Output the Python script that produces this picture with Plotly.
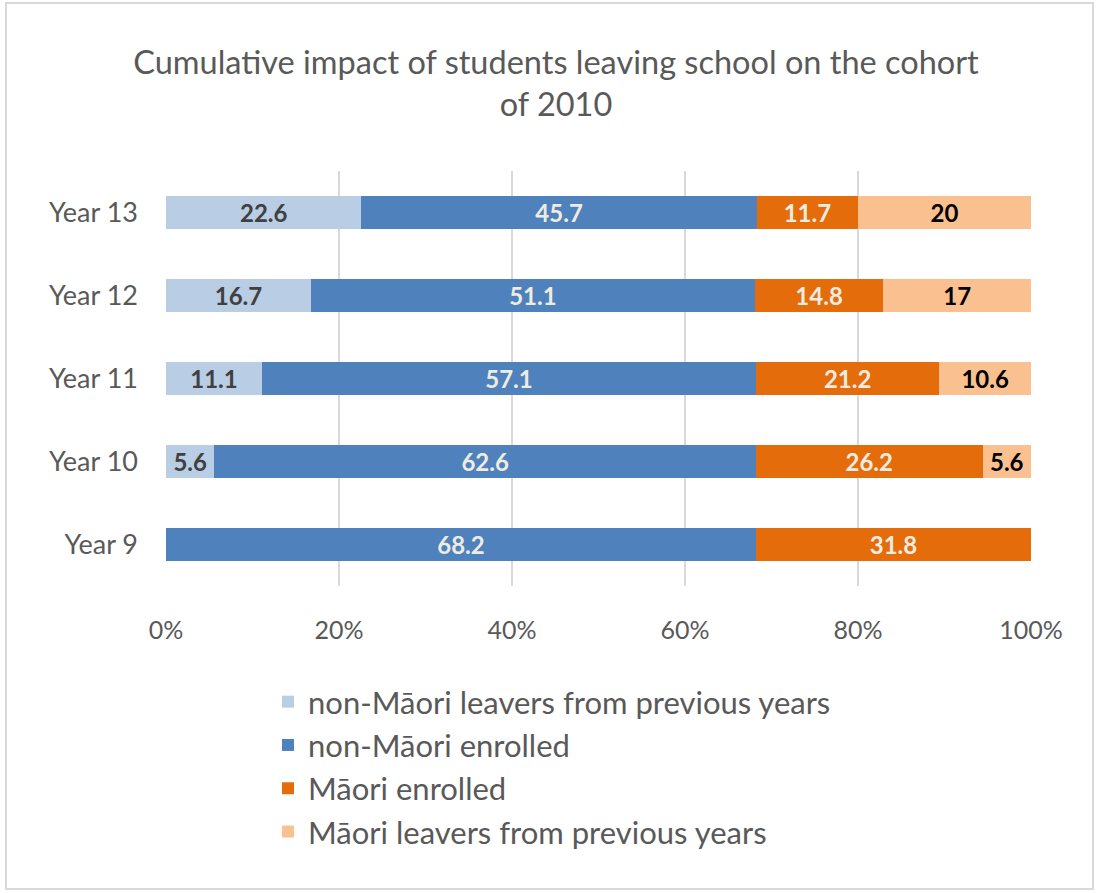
import plotly.graph_objects as go

categories = ["Year 9", "Year 10", "Year 11", "Year 12", "Year 13"]
series_names = [
    "non-Māori leavers from previous years",
    "non-Māori enrolled",
    "Māori enrolled",
    "Māori leavers from previous years",
]
non_maori_leavers = [0, 5.6, 11.1, 16.7, 22.6]
non_maori_enrolled = [68.2, 62.6, 57.1, 51.1, 45.7]
maori_enrolled = [31.8, 26.2, 21.2, 14.8, 11.7]
maori_leavers = [0, 5.6, 10.6, 17, 20]
x_tickvals = [0, 20, 40, 60, 80, 100]
x_ticktext = ["0%", "20%", "40%", "60%", "80%", "100%"]

series_values = [non_maori_leavers, non_maori_enrolled, maori_enrolled, maori_leavers]
colors = ["#b9cde5", "#4f81bd", "#e46c0a", "#fac090"]
label_colors = ["#404040", "#eeece1", "#eeece1", "#000000"]

W, H = 1096, 893
L, R, T, B = 166, 65, 171, 307
FONT = "Lato"

fig = go.Figure()
for name, vals, col, lc in zip(series_names, series_values, colors, label_colors):
    fig.add_trace(go.Bar(
        y=categories, x=vals, name=name, orientation="h",
        marker=dict(color=col, line=dict(width=0)),
        text=[("" if v == 0 else f"{v:g}") for v in vals],
        textposition="inside", insidetextanchor="middle", textangle=0,
        constraintext="none",
        textfont=dict(family=FONT, size=24, color=lc, weight="bold"),
        legendgroup=name, hoverinfo="skip",
    ))

pw, ph = W - L - R, H - T - B
def px_x(x):
    return (x - L) / pw
def px_y(y):
    return (H - B - y) / ph

fig.update_layout(
    width=W, height=H,
    margin=dict(l=L, r=R, t=T, b=B, autoexpand=False),
    barmode="stack", barnorm="percent", bargap=0.6,
    paper_bgcolor="white", plot_bgcolor="white",
    font=dict(family=FONT, color="#595959"),
    title=dict(
        text="Cumulative impact of students leaving school on the cohort<br>of 2010",
        x=556 / W, xanchor="center", xref="container",
        y=1 - 74 / H, yanchor="top", yref="container",
        font=dict(family=FONT, size=32.5, color="#595959"),
    ),
    xaxis=dict(
        range=[0, 100], tickvals=x_tickvals, ticktext=x_ticktext,
        showgrid=True, gridcolor="#d9d9d9", gridwidth=1.5,
        zeroline=False, showline=False,
        tickfont=dict(family=FONT, size=25, color="#595959"),
        ticklabelstandoff=27,
    ),
    yaxis=dict(
        categoryorder="array", categoryarray=categories,
        showgrid=False, zeroline=False, showline=False,
        tickfont=dict(family=FONT, size=27, color="#595959"),
        ticklabelstandoff=27,
    ),
    legend=dict(
        orientation="v", traceorder="grouped", tracegroupgap=0,
        x=px_x(268), xanchor="left", y=px_y(675), yanchor="top",
        font=dict(family=FONT, size=31, color="#595959"),
        bgcolor="rgba(0,0,0,0)",
    ),
    showlegend=True,
    shapes=[dict(
        type="rect", xref="paper", yref="paper",
        x0=px_x(6), x1=px_x(1093), y0=px_y(889), y1=px_y(3),
        line=dict(color="#d9d9d9", width=2), fillcolor="rgba(0,0,0,0)",
        layer="below",
    )],
)

fig.write_html("out.html")
